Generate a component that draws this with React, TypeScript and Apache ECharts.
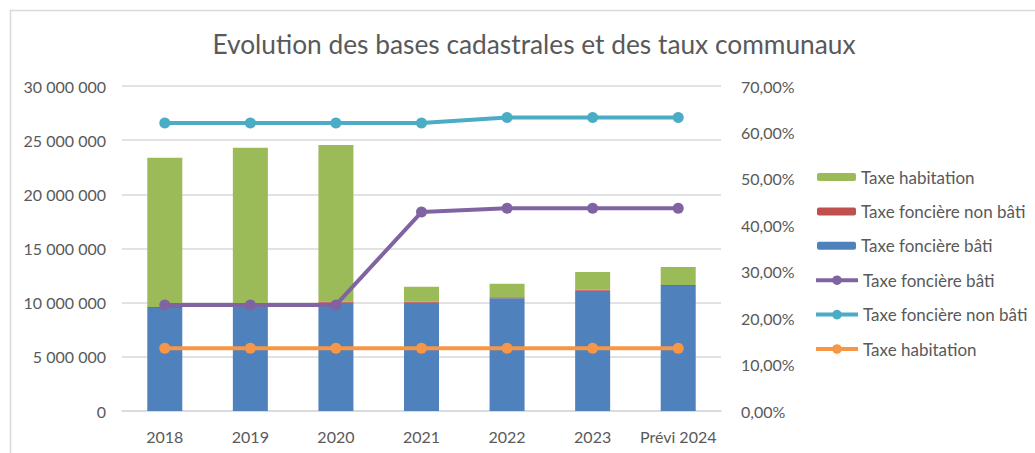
import React, { useEffect, useRef } from "react";
import * as echarts from "echarts";

const categories = ["2018", "2019", "2020", "2021", "2022", "2023", "Prévi 2024"];
const baseTaxeFonciereBati = [9500000, 9720000, 10000000, 10000000, 10400000, 11100000, 11540000];
const baseTaxeFonciereNonBati = [100000, 100000, 100000, 100000, 100000, 100000, 100000];
const baseTaxeHabitation = [13780000, 14480000, 14450000, 1370000, 1250000, 1630000, 1650000];
const tauxTaxeFonciereBati = [22.84, 22.84, 22.84, 42.84, 43.68, 43.68, 43.68];
const tauxTaxeFonciereNonBati = [62.03, 62.03, 62.03, 62.03, 63.2, 63.2, 63.2];
const tauxTaxeHabitation = [13.5, 13.5, 13.5, 13.5, 13.5, 13.5, 13.5];
const leftTicks = { min: 0, max: 30000000, interval: 5000000 };
const rightTicks = { min: 0, max: 70, interval: 10 };

const legendOrder = ["bTH", "bTFNB", "bTFB", "lTFB", "lTFNB", "lTH"];
const legendLabels: Record<string, string> = {
  bTH: "Taxe habitation",
  bTFNB: "Taxe foncière non bâti",
  bTFB: "Taxe foncière bâti",
  lTFB: "Taxe foncière bâti",
  lTFNB: "Taxe foncière non bâti",
  lTH: "Taxe habitation",
};

const FONT = "Lato, 'Open Sans', sans-serif";
const TXT = "#595959";
const GRID = "#d9d9d9";

function fmtSpace(v: number) {
  return String(Math.round(v)).replace(/\B(?=(\d{3})+(?!\d))/g, " ");
}

export default function App() {
  const ref = useRef<HTMLDivElement>(null);
  useEffect(() => {
    if (!ref.current) return;
    const chart = echarts.init(ref.current, null, { renderer: "svg" });
    const lineSeries = (id: string, data: number[], color: string, z: number) => ({
      name: id,
      type: "line",
      yAxisIndex: 1,
      data,
      symbol: "circle",
      symbolSize: 11,
      itemStyle: { color },
      lineStyle: { color, width: 4 },
      z,
    });
    const legendFirst = 176;
    const legendStep = 34.4;
    const legends = legendOrder.map((id, i) => {
      const isLine = id.startsWith("l");
      const lh = 15;
      return {
        orient: "vertical",
        left: isLine ? 809 : 812,
        top: legendFirst + i * legendStep - 5 - lh / 2,
        itemWidth: isLine ? 42 : 39,
        itemHeight: isLine ? 12 : 8,
        lineStyle: { width: 4 },
        textStyle: { fontFamily: FONT, fontSize: 17, color: TXT, lineHeight: lh },
        formatter: (n: string) => legendLabels[n] ?? n,
        data: [id],
      };
    });
    chart.setOption({
      animation: false,
      backgroundColor: "#ffffff",
      textStyle: { fontFamily: FONT },
      title: {
        text: "Evolution des bases cadastrales et des taux communaux",
        left: 529,
        textAlign: "center",
        top: 26,
        textStyle: { fontFamily: FONT, fontSize: 26.3, fontWeight: "normal", color: TXT },
      },
      graphic: [
        { type: "line", shape: { x1: 10, y1: 10.5, x2: 1035, y2: 10.5 }, style: { stroke: GRID, lineWidth: 1.5 } },
        { type: "line", shape: { x1: 10.5, y1: 10, x2: 10.5, y2: 453 }, style: { stroke: GRID, lineWidth: 1.5 } },
      ],
      legend: legends,
      grid: { left: 122, right: 314, top: 86, bottom: 42 },
      xAxis: {
        type: "category",
        data: categories,
        axisLine: { lineStyle: { color: GRID, width: 1.5 } },
        axisTick: { show: false },
        axisLabel: { color: TXT, fontFamily: FONT, fontSize: 16, margin: 17, interval: 0 },
      },
      yAxis: [
        {
          type: "value",
          min: leftTicks.min,
          max: leftTicks.max,
          interval: leftTicks.interval,
          axisLine: { show: false },
          axisTick: { show: false },
          splitLine: { lineStyle: { color: GRID, width: 1.5 } },
          axisLabel: { color: TXT, fontFamily: FONT, fontSize: 16, margin: 16, formatter: (v: number) => fmtSpace(v) },
        },
        {
          type: "value",
          min: rightTicks.min,
          max: rightTicks.max,
          interval: rightTicks.interval,
          axisLine: { show: false },
          axisTick: { show: false },
          splitLine: { show: false },
          axisLabel: {
            color: TXT,
            fontFamily: FONT,
            fontSize: 16,
            margin: 20,
            formatter: (v: number) => v.toFixed(2).replace(".", ",") + "%",
          },
        },
      ],
      series: [
        { name: "bTFB", type: "bar", stack: "b", barWidth: 35, data: baseTaxeFonciereBati, itemStyle: { color: "#4f81bd" } },
        { name: "bTFNB", type: "bar", stack: "b", barWidth: 35, data: baseTaxeFonciereNonBati, itemStyle: { color: "#c0504d" } },
        { name: "bTH", type: "bar", stack: "b", barWidth: 35, data: baseTaxeHabitation, itemStyle: { color: "#9bbb59" } },
        lineSeries("lTFB", tauxTaxeFonciereBati, "#8064a2", 5),
        lineSeries("lTFNB", tauxTaxeFonciereNonBati, "#4bacc6", 5),
        lineSeries("lTH", tauxTaxeHabitation, "#f79646", 5),
      ],
    });
    return () => chart.dispose();
  }, []);
  return (
    <div style={{ position: "fixed", left: 0, top: 0, width: 1035, height: 453, background: "#fff" }}>
      <div ref={ref} style={{ width: 1035, height: 453 }} />
    </div>
  );
}
